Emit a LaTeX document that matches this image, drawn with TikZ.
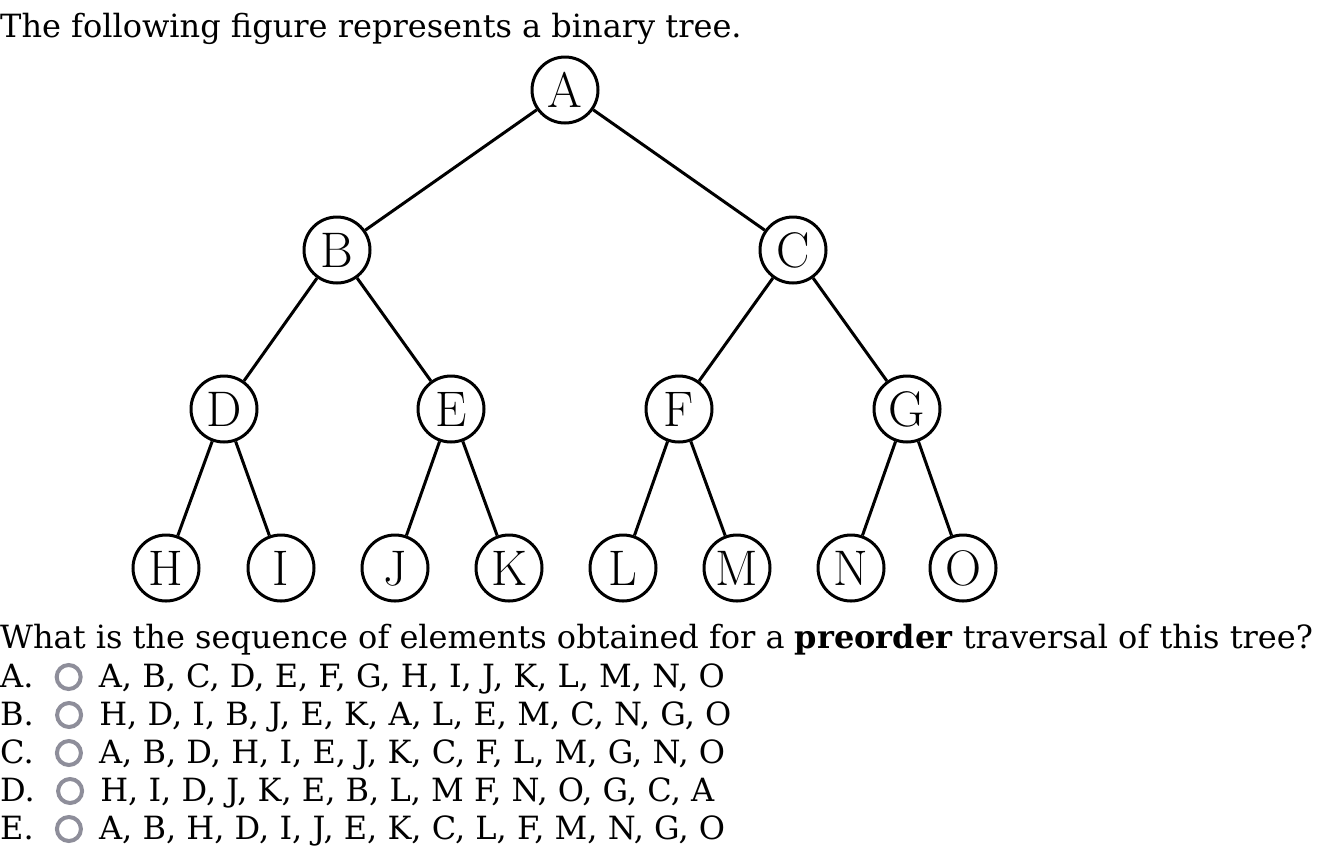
\documentclass[tikz,border=0pt]{standalone}
\usepackage{fontspec}
\setmainfont{DejaVu Serif}
\newfontfamily\lmfont{Latin Modern Roman}
\usetikzlibrary{calc}
\definecolor{radiogray}{RGB}{142,142,154}
\tikzset{
  treenode/.style={circle, draw=black, line width=3pt, minimum size=66pt, inner sep=0pt,
    font=\lmfont\fontsize{50}{50}\selectfont, text height=34pt, text depth=0pt},
  edge/.style={line width=3pt, draw=black},
  txt/.style={anchor=base west, inner sep=0pt, font=\fontsize{32}{38}\selectfont},
  radio/.style={circle, draw=radiogray, line width=4pt, minimum size=24pt, inner sep=0pt},
}
\begin{document}
\begin{tikzpicture}[x=1pt, y=-1pt]
\useasboundingbox (0,0) rectangle (1317,855);
% title
\node[txt] (title) at (0,37) {The following figure represents a binary tree.};
% tree
\node[treenode] (A) at (565,90) {A};
\node[treenode] (B) at (337,250) {B};
\node[treenode] (C) at (793,250) {C};
\node[treenode] (D) at (224,409) {D};
\node[treenode] (E) at (451,409) {E};
\node[treenode] (F) at (679,409) {F};
\node[treenode] (G) at (907,409) {G};
\node[treenode] (H) at (166,568) {H};
\node[treenode] (I) at (281,568) {I};
\node[treenode] (J) at (395,568) {J};
\node[treenode] (K) at (509,568) {K};
\node[treenode] (L) at (623,568) {L};
\node[treenode] (M) at (737,568) {M};
\node[treenode] (N) at (851,568) {N};
\node[treenode] (O) at (963,568) {O};
\foreach \p/\c in {A/B,A/C,B/D,B/E,C/F,C/G,D/H,D/I,E/J,E/K,F/L,F/M,G/N,G/O}
  \draw[edge] (\p) -- (\c);
% question
\node[txt] (q) at (0,648) {What is the sequence of elements obtained for a \textbf{preorder} traversal of this tree?};
% options
\foreach \lab/\ans/\y in {
  A/{A, B, C, D, E, F, G, H, I, J, K, L, M, N, O}/687,
  B/{H, D, I, B, J, E, K, A, L, E, M, C, N, G, O}/725,
  C/{A, B, D, H, I, E, J, K, C, F, L, M, G, N, O}/763,
  D/{H, I, D, J, K, E, B, L, M F, N, O, G, C, A}/801,
  E/{A, B, H, D, I, J, E, K, C, L, F, M, N, G, O}/839}{
  \node[txt] (l\lab) at (0,\y) {\lab.};
  \node[radio] (r\lab) at ($(l\lab.base east)+(35,-10)$) {};
  \node[txt] (t\lab) at ($(l\lab.base east)+(65,0)$) {\ans};
}
\end{tikzpicture}
\end{document}
